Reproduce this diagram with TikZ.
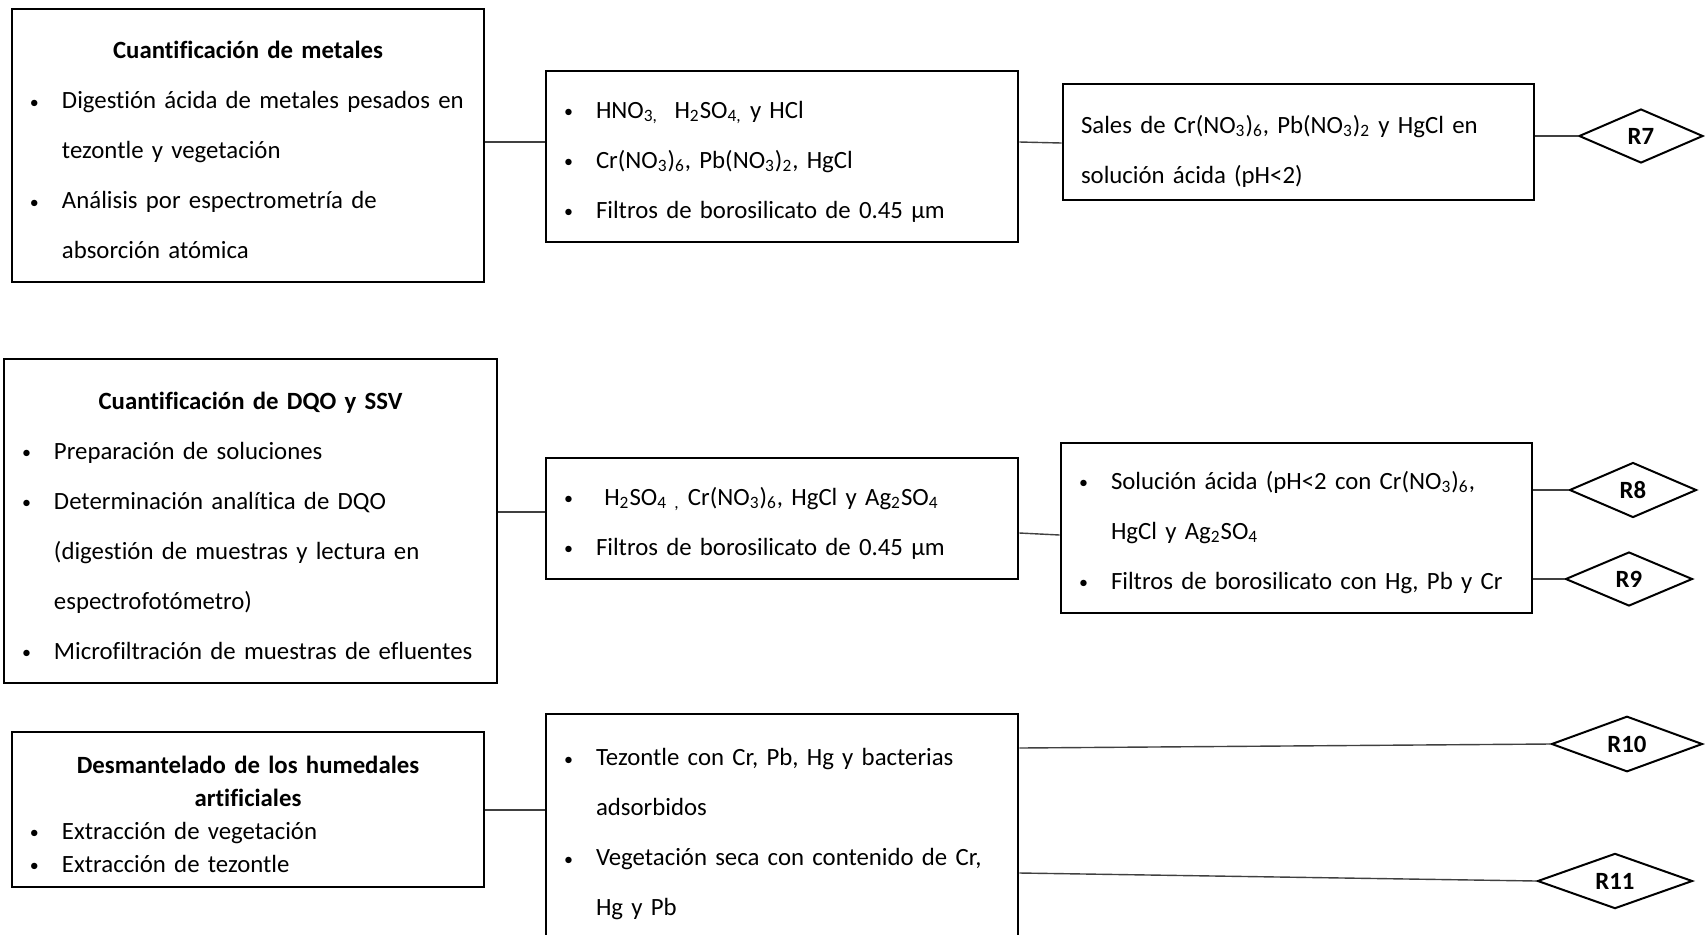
\documentclass[tikz,border=0pt]{standalone}
\usepackage{fontspec}
\setmainfont{Carlito}[Ligatures=NoCommon]
\usetikzlibrary{shapes.geometric}

\newcommand{\bul}[1]{\makebox[16pt][l]{\raisebox{0.4pt}{\fontsize{9}{9}\selectfont\textbullet}}\mbox{#1}}
\newcommand{\cont}[1]{\hspace*{16pt}\mbox{#1}}
\newcommand{\titulo}[1]{\makebox[\linewidth][c]{\bfseries #1}}

\tikzset{
  caja/.style={draw, line width=1.4pt, inner xsep=9pt, inner ysep=0pt, align=left,
    text width=218pt, minimum width=236pt, font=\fontsize{12.4}{25}\selectfont,
    execute at begin node={\rule{0pt}{13.5pt}}},
  rombo/.style={draw, diamond, line width=1pt, inner sep=0pt,
    font=\bfseries\fontsize{12.4}{15}\selectfont},
  enlace/.style={line width=0.7pt, draw=black!75}
}

\begin{document}
\begin{tikzpicture}[x=0.5pt,y=-0.5pt]
	\fill[white] (0,0) rectangle (1705,934);
	\useasboundingbox (0,0) rectangle (1705,934);
	% metales
	\node[caja, minimum height=136.5pt] (met1) at (248,145.5) {\titulo{Cuantificación de metales}\\
		\bul{Digestión ácida de metales pesados en}\\ \cont{tezontle y vegetación}\\
		\bul{Análisis por espectrometría de}\\ \cont{absorción atómica}};
	\node[caja, minimum height=85.5pt] (met2) at (782,156.5) {\bul{HNO\textsubscript{3,}\ \ H\textsubscript{2}SO\textsubscript{4,} y HCl}\\
		\bul{Cr(NO\textsubscript{3})\textsubscript{6},\ Pb(NO\textsubscript{3})\textsubscript{2},\ HgCl}\\
		\bul{Filtros de borosilicato de 0.45 µm}};
	\node[caja, text width=217.5pt, minimum width=235.5pt, minimum height=58pt,
		execute at begin node={\rule{0pt}{18pt}}] (met3) at (1298.5,142) {Sales de Cr(NO\textsubscript{3})\textsubscript{6}, Pb(NO\textsubscript{3})\textsubscript{2} y HgCl en\\
		solución ácida (pH<2)};
	\node[rombo, minimum width=62pt, minimum height=27pt] (r7) at (1641,136) {R7};
	% DQO y SSV
	\node[caja, text width=228.5pt, minimum width=246.5pt, minimum height=162pt] (dqo1) at (250.5,521) {\titulo{Cuantificación de DQO y SSV}\\
		\bul{Preparación de soluciones}\\
		\bul{Determinación analítica de DQO}\\ \cont{(digestión de muestras y lectura en}\\ \cont{espectrofotómetro)}\\
		\bul{Microfiltración de muestras de efluentes}};
	\node[caja, minimum height=60.5pt] (dqo2) at (782,518.5) {\bul{\ H\textsubscript{2}SO\textsubscript{4\ ,} Cr(NO\textsubscript{3})\textsubscript{6},\ HgCl y Ag\textsubscript{2}SO\textsubscript{4}}\\
		\bul{Filtros de borosilicato de 0.45 µm}};
	\node[caja, text width=217.5pt, minimum width=235.5pt, minimum height=85pt] (dqo3) at (1296.5,528) {\bul{Solución ácida (pH<2 con Cr(NO\textsubscript{3})\textsubscript{6},}\\
		\cont{HgCl y Ag\textsubscript{2}SO\textsubscript{4}}\\
		\bul{Filtros de borosilicato con Hg, Pb y Cr}};
	\node[rombo, minimum width=63.5pt, minimum height=27.5pt] (r8) at (1633,490) {R8};
	\node[rombo, minimum width=63.5pt, minimum height=27pt] (r9) at (1629,579) {R9};
	% desmantelado
	\node[caja, minimum height=77.5pt, font=\fontsize{12.4}{16.5}\selectfont] (hum1) at (248,809.5) {\titulo{Desmantelado de los humedales}\\
		\titulo{artificiales}\\
		\bul{Extracción de vegetación}\\
		\bul{Extracción de tezontle}};
	\node[caja, minimum height=115.5pt] (hum2) at (782,829.5) {\bul{Tezontle con Cr, Pb, Hg y bacterias}\\ \cont{adsorbidos}\\
		\bul{Vegetación seca con contenido de Cr,}\\ \cont{Hg y Pb}};
	\node[rombo, minimum width=75.5pt, minimum height=24pt] (r10) at (1627,744) {R10};
	\node[rombo, minimum width=77.5pt, minimum height=27pt] (r11) at (1615,881) {R11};
	% enlaces
	\draw[enlace] (met1.east |- 0,142) -- (met2.west |- 0,142);
	\draw[enlace] (met2.east |- 0,142) -- (met3.west |- 0,143);
	\draw[enlace] (met3.east |- r7.west) -- (r7.west);
	\draw[enlace] (dqo1.east |- 0,512) -- (dqo2.west |- 0,512);
	\draw[enlace] (dqo2.east |- 0,533) -- (dqo3.west |- 0,535);
	\draw[enlace] (dqo3.east |- r8.west) -- (r8.west);
	\draw[enlace] (dqo3.east |- r9.west) -- (r9.west);
	\draw[enlace] (hum1.east |- 0,810) -- (hum2.west |- 0,810);
	\draw[enlace] (hum2.east |- 0,748) -- (r10.west);
	\draw[enlace] (hum2.east |- 0,873) -- (r11.west);
\end{tikzpicture}
\end{document}
